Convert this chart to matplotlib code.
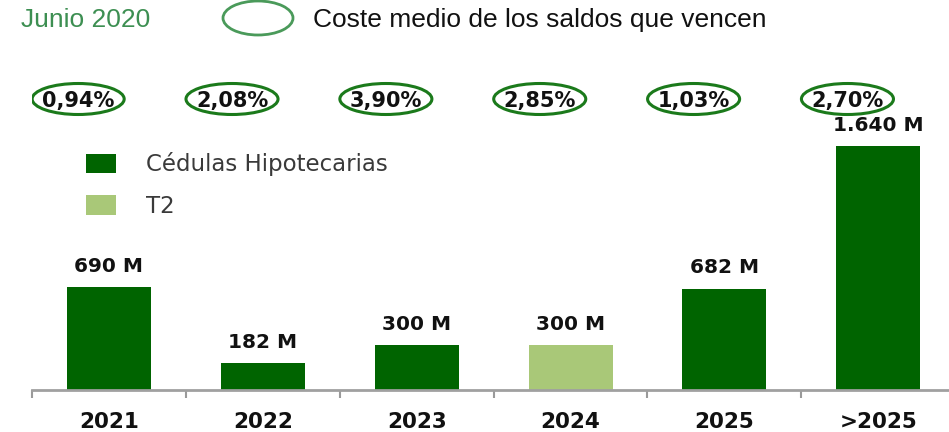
"""Vencimientos de emisiones: cédulas hipotecarias y T2
"""
import matplotlib
matplotlib.use("Agg")
import matplotlib.pyplot as plt
from matplotlib.patches import Ellipse, Patch

W, H = 949, 432  # tamaño en píxeles
DPI = 100
plt.rcParams["font.family"] = "DejaVu Sans"

anios = ["2021", "2022", "2023", "2024", "2025", ">2025"]
importes = [690, 182, 300, 300, 682, 1640]  # millones
tipo = ["ced", "ced", "ced", "t2", "ced", "ced"]
coste_medio = [0.94, 2.08, 3.90, 2.85, 1.03, 2.70]  # %

verde = "#006400"
verde_claro = "#a9c878"
series = {"ced": ("Cédulas Hipotecarias", verde), "t2": ("T2", verde_claro)}


def fx(px):
    return px / W


def fy(py):
    return 1 - py / H


def fmt_millones(v):
    return f"{v:,.0f}".replace(",", ".") + " M"


def fmt_pct(v):
    return f"{v:.2f}".replace(".", ",") + "%"


fig = plt.figure(figsize=(W / DPI, H / DPI), dpi=DPI)
base = 390  # línea base en píxeles
ax = fig.add_axes([fx(32), fy(base), fx(W - 32), base / H])
ax.set_xlim(-0.5, 5.46)
ax.set_ylim(0, base / 0.1488)

x = list(range(len(anios)))
for clave, (nombre, color) in series.items():
    xs = [i for i in x if tipo[i] == clave]
    ax.bar(xs, [importes[i] for i in xs], width=0.546, color=color, label=nombre, zorder=2)

for i, v in zip(x, importes):
    ax.annotate(fmt_millones(v), (i, v), xytext=(0, 11), textcoords="offset points",
                ha="center", va="baseline", fontsize=14.5, fontweight="bold", color="#111111")

# óvalos con el coste medio de los saldos que vencen
y_ov = (base - 99) / 0.1488
for i, c in zip(x, coste_medio):
    xc = i - 0.2
    ax.add_patch(Ellipse((xc, y_ov), 92 / 153.8, 31 / 0.1488, fill=False,
                         edgecolor="#1b7a1b", lw=2.2, zorder=3))
    ax.text(xc, y_ov, fmt_pct(c), ha="center", va="center_baseline", fontsize=15,
            fontweight="bold", color="#111111", zorder=4)

ax.set_xticks(x)
ax.set_xticklabels(anios, fontsize=15.5, fontweight="bold", color="#111111")
ax.tick_params(axis="x", which="major", length=0, pad=16)
ax.set_xticks([i - 0.5 for i in x], minor=True)
ax.tick_params(axis="x", which="minor", length=6, width=1.5, color="#9a9a9a", direction="out")
ax.set_yticks([])
for lado in ["top", "right", "left"]:
    ax.spines[lado].set_visible(False)
ax.spines["bottom"].set_color("#a0a0a0")
ax.spines["bottom"].set_linewidth(2)

handles = [Patch(facecolor=c, label=n) for n, c in series.values()]
fig.legend(handles=handles, loc="upper left", bbox_to_anchor=(fx(75), fy(141)),
           frameon=False, fontsize=16.5, handlelength=1.31, handleheight=0.92,
           handletextpad=1.3, labelspacing=0.8, labelcolor="#3a3a3a", borderpad=0)

# cabecera
fig.text(fx(21), fy(20), "Junio 2020", ha="left", va="center", fontsize=19,
         family="Liberation Sans", color="#3d8f52")
fig.patches.append(Ellipse((fx(258), fy(18)), fx(70), 34 / H, fill=False,
                           edgecolor="#4a9a5a", lw=2, transform=fig.transFigure))
fig.text(fx(313), fy(20), "Coste medio de los saldos que vencen", ha="left", va="center",
         fontsize=19, family="Liberation Sans", color="#111111")

fig.savefig("out.png", dpi=DPI)
